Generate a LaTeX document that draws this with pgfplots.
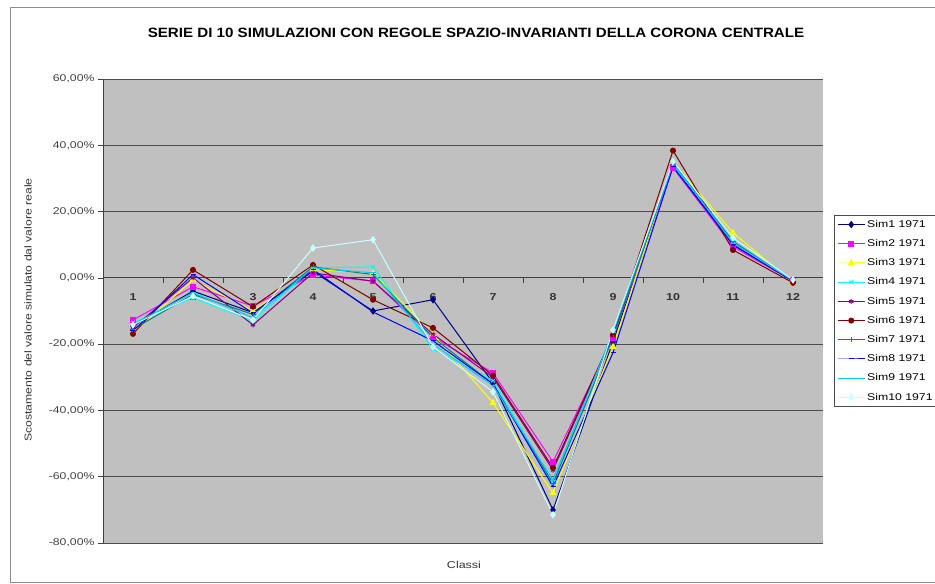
\documentclass[border=0pt]{standalone}
\usepackage{pgfplots}
\pgfplotsset{compat=1.18}
\usepackage{fontspec}
\setmainfont{Liberation Sans}
\newfontfamily\widefont[FakeStretch=1.25]{Liberation Sans}
\newfontfamily\ylabfont[FakeStretch=1.22]{Liberation Sans}
\newfontfamily\titlefont[FakeStretch=1.12]{Liberation Sans}
\definecolor{plotbg}{RGB}{192,192,192}
\definecolor{cNavy}{RGB}{0,0,128}
\definecolor{cMag}{RGB}{255,0,255}
\definecolor{cYel}{RGB}{255,255,0}
\definecolor{cCyan}{RGB}{0,255,255}
\definecolor{cPurp}{RGB}{128,0,128}
\definecolor{cDRed}{RGB}{128,0,0}
\definecolor{cTeal}{RGB}{0,128,128}
\definecolor{cBlue}{RGB}{0,0,255}
\definecolor{cSky}{RGB}{0,204,255}
\definecolor{cLTurq}{RGB}{204,255,255}
\begin{document}
\begin{tikzpicture}[x=1pt,y=1pt]
\path[use as bounding box] (0,0) rectangle (935,584);
\draw[black!45, line width=1pt] (10,1) rectangle (945,576);
\node[font=\titlefont\bfseries\fontsize{13.5}{16}\selectfont] at (476,551) {SERIE DI 10 SIMULAZIONI CON REGOLE SPAZIO-INVARIANTI DELLA CORONA CENTRALE};
\node[rotate=90, font=\ylabfont\fontsize{10}{12}\selectfont, text=black!80] at (28,274) {Scostamento del valore simulato dal valore reale};
\node[font=\widefont\fontsize{10}{12}\selectfont, text=black!80] at (464,19) {Classi};
\begin{axis}[
  at={(103pt,41pt)}, anchor=south west, scale only axis,
  width=720pt, height=464pt,
  xmin=0.5, xmax=12.5, ymin=-80, ymax=60,
  axis x line=middle, axis y line=left,
  x axis line style={-, black!75, line width=0.8pt},
  y axis line style={-, black!75, line width=0.8pt},
  axis background/.style={fill=plotbg},
  tick align=outside,
  xtick={1,...,12},
  xticklabels={1,2,3,4,5,6,7,8,9,10,11,12},
  major x tick style={draw=none},
  minor xtick={1.5,2.5,...,11.5},
  minor x tick style={black!75, line width=0.6pt},
  minor tick length=5pt,
  major tick length=5pt,
  xticklabel style={font=\widefont\bfseries\fontsize{10}{12}\selectfont, text=black!80, yshift=-7pt},
  ytick={-80,-60,...,60},
  yticklabels={{-80,00\%},{-60,00\%},{-40,00\%},{-20,00\%},{0,00\%},{20,00\%},{40,00\%},{60,00\%}},
  yticklabel style={font=\widefont\fontsize{9.8}{12}\selectfont, text=black!75},
  y tick style={black!75, line width=0.6pt},
  ymajorgrids,
  grid style={black!70, line width=0.9pt},
  legend style={at={(1.0153,0.5)}, anchor=west, draw=black!70, fill=white,
    font=\widefont\fontsize{9.8}{12}\selectfont, row sep=6.6pt, inner sep=3pt},
  legend cell align=left,
  legend image code/.code={\draw[mark repeat=2, mark phase=2, #1] plot coordinates {(0pt,0pt) (13.5pt,0pt) (27pt,0pt)};},
  every axis plot/.append style={line width=1pt},
]
\addplot[cNavy, mark=diamond*, mark size=3pt] coordinates {(1,-14.5) (2,-4) (3,-10.5) (4,2) (5,-10) (6,-6.6) (7,-31.7) (8,-70) (9,-19.3) (10,34) (11,10) (12,-1)};
\addlegendentry{Sim1 1971}
\addplot[cMag, mark=square*, mark size=2.5pt] coordinates {(1,-12.7) (2,-2.7) (3,-8.5) (4,0.9) (5,-1) (6,-17.8) (7,-28.7) (8,-55.5) (9,-18) (10,33.2) (11,9.4) (12,-1)};
\addlegendentry{Sim2 1971}
\addplot[cYel, mark=triangle*, mark size=3pt] coordinates {(1,-16.5) (2,-0.6) (3,-10) (4,2.5) (5,1.5) (6,-17) (7,-37.7) (8,-64.9) (9,-20.8) (10,35) (11,13.6) (12,-1.5)};
\addlegendentry{Sim3 1971}
\addplot[cCyan, mark=x, mark size=2.5pt] coordinates {(1,-13.5) (2,-6) (3,-13) (4,3) (5,3.3) (6,-21.5) (7,-31) (8,-61.8) (9,-16) (10,34) (11,11) (12,-1)};
\addlegendentry{Sim4 1971}
\addplot[cPurp, mark=asterisk, mark size=2.5pt] coordinates {(1,-15) (2,0) (3,-14.2) (4,1.5) (5,-1) (6,-17) (7,-30) (8,-58) (9,-17.5) (10,35) (11,10) (12,-1)};
\addlegendentry{Sim5 1971}
\addplot[cDRed, mark=*, mark size=2.5pt] coordinates {(1,-16.9) (2,2.4) (3,-8.7) (4,3.9) (5,-6.6) (6,-15.1) (7,-29.5) (8,-57.3) (9,-17.2) (10,38.4) (11,8.4) (12,-1.5)};
\addlegendentry{Sim6 1971}
\addplot[cTeal, mark=+, mark size=2.5pt] coordinates {(1,-15.5) (2,-5) (3,-11) (4,3.3) (5,1) (6,-18) (7,-32) (8,-62) (9,-18) (10,34.5) (11,11) (12,-1)};
\addlegendentry{Sim7 1971}
\addplot[cBlue, mark=-, mark size=2.5pt] coordinates {(1,-16) (2,1) (3,-10.6) (4,2.5) (5,-10.3) (6,-19) (7,-32) (8,-63) (9,-22.6) (10,33.5) (11,10) (12,-1)};
\addlegendentry{Sim8 1971}
\addplot[cSky, mark=-, mark size=2.5pt] coordinates {(1,-14) (2,-4.5) (3,-12) (4,3) (5,1.5) (6,-20) (7,-32.5) (8,-61) (9,-16.5) (10,34.5) (11,10.5) (12,-0.8)};
\addlegendentry{Sim9 1971}
\addplot[cLTurq, mark=diamond*, mark size=3pt] coordinates {(1,-14.2) (2,-5.5) (3,-12.7) (4,9) (5,11.5) (6,-20.8) (7,-34.4) (8,-71.5) (9,-15.7) (10,35.1) (11,12.1) (12,-0.6)};
\addlegendentry{Sim10 1971}
\end{axis}
\end{tikzpicture}
\end{document}
